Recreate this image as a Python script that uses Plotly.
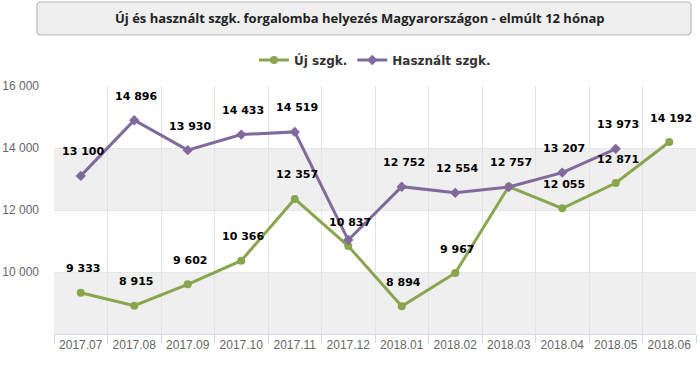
import plotly.graph_objects as go

categories = ["2017.07", "2017.08", "2017.09", "2017.10", "2017.11", "2017.12",
              "2018.01", "2018.02", "2018.03", "2018.04", "2018.05", "2018.06"]
uj_values = [9333, 8915, 9602, 10366, 12357, 10837, 8894, 9967, 12757, 12055, 12871, 14192]
hasznalt_values = [13100, 14896, 13930, 14433, 14519, 11030, 12752, 12554, 12740, 13207, 13973]
uj_labels = ["9 333", "8 915", "9 602", "10 366", "12 357", "10 837", "8 894", "9 967",
             "12 757", "12 055", "12 871", "14 192"]
hasznalt_labels = ["13 100", "14 896", "13 930", "14 433", "14 519", "", "12 752", "12 554",
                   "", "13 207", "13 973"]
y_tickvals = [10000, 12000, 14000, 16000]
y_ticktext = ["10 000", "12 000", "14 000", "16 000"]
bands = [(8000, 10000), (12000, 14000)]

title_text = "Új és használt szgk. forgalomba helyezés Magyarországon - elmúlt 12 hónap"
GREEN = "#89A54E"
PURPLE = "#80699B"

fig = go.Figure()
fig.add_trace(go.Scatter(
    x=categories, y=uj_values, name="<b>Új szgk.</b>", mode="lines+markers",
    line=dict(color=GREEN, width=3), marker=dict(symbol="circle", size=8, color=GREEN),
))
fig.add_trace(go.Scatter(
    x=categories[:len(hasznalt_values)], y=hasznalt_values, name="<b>Használt szgk.</b>",
    mode="lines+markers",
    line=dict(color=PURPLE, width=3), marker=dict(symbol="diamond", size=8, color=PURPLE),
))

annotations = []
for vals, labs in ((uj_values, uj_labels), (hasznalt_values, hasznalt_labels)):
    for i, (v, t) in enumerate(zip(vals, labs)):
        if t:
            annotations.append(dict(
                x=i, y=v, xref="x", yref="y", text="<b>" + t + "</b>", showarrow=False,
                yshift=24, xshift=2,
                font=dict(family="DejaVu Sans", size=11, color="#000000"),
            ))

shapes = []
for lo, hi in bands:
    shapes.append(dict(type="rect", xref="paper", yref="y", x0=0, x1=1, y0=lo, y1=hi,
                       fillcolor="#efefef", line=dict(width=0), layer="below"))

# title box (rounded rect) in paper coords
pw, ph = 642.0, 248.0
x0p, x1p = (37 - 54) / pw, (691 - 54) / pw
y0p, y1p = (334 - 35) / ph, (334 - 2) / ph
rx, ry = 4 / pw, 4 / ph
path = (f"M {x0p+rx},{y1p} L {x1p-rx},{y1p} Q {x1p},{y1p} {x1p},{y1p-ry} "
        f"L {x1p},{y0p+ry} Q {x1p},{y0p} {x1p-rx},{y0p} L {x0p+rx},{y0p} "
        f"Q {x0p},{y0p} {x0p},{y0p+ry} L {x0p},{y1p-ry} Q {x0p},{y1p} {x0p+rx},{y1p} Z")
shapes.append(dict(type="path", xref="paper", yref="paper", path=path,
                   fillcolor="#efefef", line=dict(color="#b8b8b8", width=1.2)))

fig.update_layout(
    width=700, height=366,
    margin=dict(l=54, r=4, t=86, b=32, autoexpand=False),
    paper_bgcolor="white", plot_bgcolor="white",
    title=dict(text="<b>" + title_text + "</b>", x=0.514, xanchor="center",
               y=1 - 18 / 366, yanchor="middle",
               font=dict(family="Open Sans", size=13, color="#222222")),
    legend=dict(orientation="h", x=0.5, xanchor="center", y=1 + 26 / 248, yanchor="middle",
                font=dict(family="DejaVu Sans", size=12, color="#333333"),
                itemwidth=30, bgcolor="rgba(0,0,0,0)"),
    shapes=shapes,
    annotations=annotations,
    xaxis=dict(type="category", categoryorder="array", categoryarray=categories,
               range=[-0.5, 11.5], tickson="boundaries", showgrid=True, gridcolor="#e3e3e3",
               ticks="outside", ticklen=8, tickcolor="#d0d8e4", showline=True,
               linecolor="#d0d8e4", linewidth=1,
               tickfont=dict(family="Liberation Sans", size=12, color="#666666"),
               zeroline=False, automargin=False),
    yaxis=dict(range=[8000, 16000], tickvals=y_tickvals, ticktext=y_ticktext,
               showgrid=True, gridcolor="#e6e6e6", zeroline=False, showline=False,
               ticklabelstandoff=14, automargin=False,
               tickfont=dict(family="Liberation Sans", size=12, color="#666666")),
    showlegend=True,
)

fig.write_html("out.html", config={"displayModeBar": False},
               post_script="document.body.style.margin='0';")
